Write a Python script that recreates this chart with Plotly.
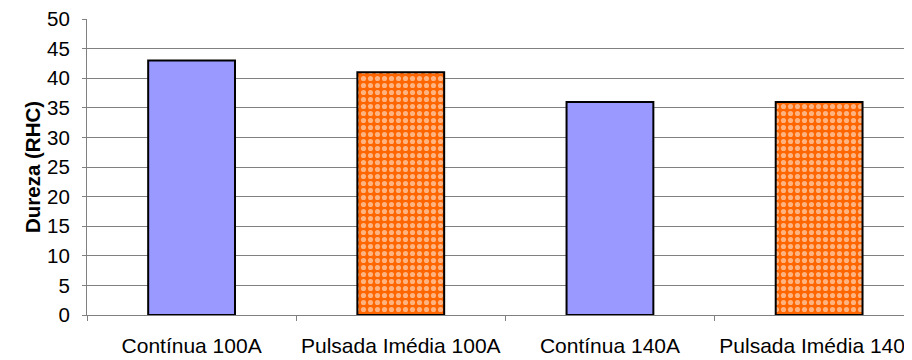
import plotly.graph_objects as go

categories = ["Contínua 100A", "Pulsada Imédia 100A", "Contínua 140A", "Pulsada Imédia 140A"]
dureza = [43, 41, 36, 36]
y_ticks = [0, 5, 10, 15, 20, 25, 30, 35, 40, 45, 50]

# series split by fill style
cont_idx = [0, 2]
puls_idx = [1, 3]

fig = go.Figure()
fig.add_trace(go.Bar(
    x=[categories[i] for i in cont_idx], y=[dureza[i] for i in cont_idx], width=0.415,
    marker=dict(color="#9999FF", line=dict(color="#000000", width=2)),
    showlegend=False,
))
fig.add_trace(go.Bar(
    x=[categories[i] for i in puls_idx], y=[dureza[i] for i in puls_idx], width=0.415,
    marker=dict(
        color="#FF6600",
        line=dict(color="#000000", width=2),
        pattern=dict(shape=".", fgcolor="#FFFFFF", size=7, solidity=0.42, fillmode="overlay"),
    ),
    showlegend=False,
))

# the page body adds an 8px offset; compensate so the plot area lands where it should
fig.update_layout(
    width=904, height=352,
    margin=dict(l=79, r=0, t=11, b=45),
    paper_bgcolor="white", plot_bgcolor="white",
    font=dict(family="Liberation Sans, Arial, sans-serif", size=21, color="#000000"),
    barmode="overlay",
)
fig.update_xaxes(
    categoryorder="array", categoryarray=categories,
    range=[-0.5, 3.444], automargin=False,
    showline=True, linecolor="#808080", linewidth=1,
    tickson="boundaries", ticks="outside", ticklen=5, tickcolor="#808080",
    showgrid=False, tickfont=dict(size=21), ticklabelstandoff=12,
    ticklabeloverflow="allow",
)
fig.update_yaxes(
    range=[0, 50], tickvals=y_ticks, automargin=False,
    showline=True, linecolor="#808080", linewidth=1,
    ticks="outside", ticklen=4, tickcolor="#808080",
    showgrid=True, gridcolor="#808080", gridwidth=1,
    zeroline=False, tickfont=dict(size=20.5), ticklabelstandoff=8,
    ticklabeloverflow="allow",
    title=dict(text="<b>Dureza (RHC)</b>", font=dict(size=20.5), standoff=0),
)

fig.write_html("out.html")
